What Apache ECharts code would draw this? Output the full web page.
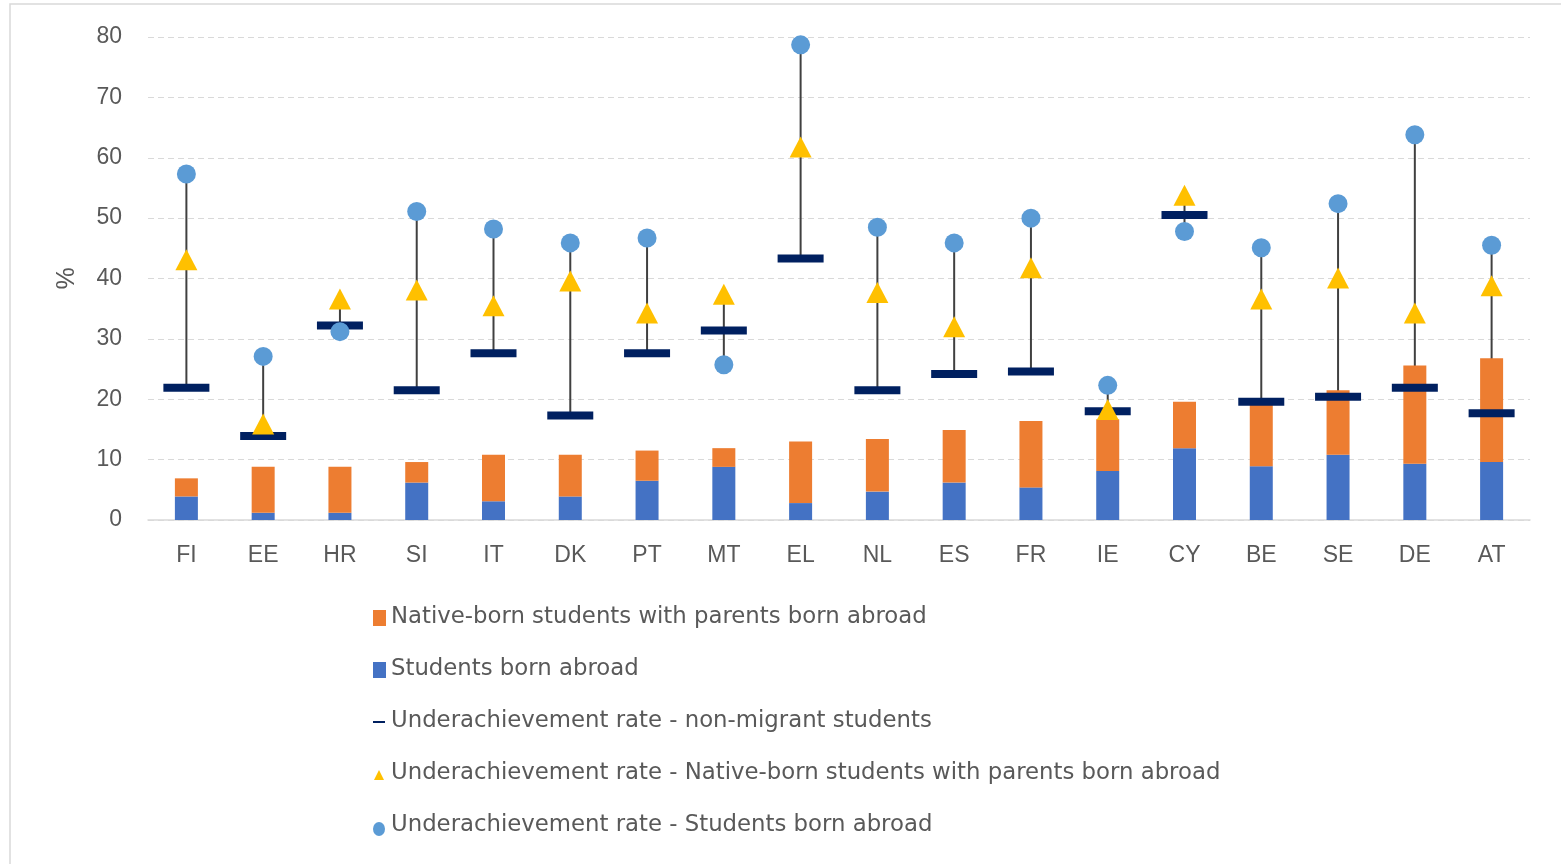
<!DOCTYPE html>
<html>
<head>
<meta charset="utf-8">
<script src="https://cdn.jsdelivr.net/npm/echarts@6/dist/echarts.min.js"></script>
<style>
  html, body { margin: 0; padding: 0; background: #fff; }
  #chart { width: 1561px; height: 864px; }
</style>
</head>
<body>
<div id="chart"></div>
<script>
// countries
var countries = ['FI', 'EE', 'HR', 'SI', 'IT', 'DK', 'PT', 'MT', 'EL', 'NL', 'ES', 'FR', 'IE', 'CY', 'BE', 'SE', 'DE', 'AT'];

// share of students (%) - stacked bars
var bornAbroad = [3.9, 1.2, 1.2, 6.2, 3.1, 3.9, 6.5, 8.8, 2.8, 4.7, 6.2, 5.4, 8.1, 11.9, 8.9, 10.8, 9.3, 9.6];
var nativeParentsAbroad = [3.0, 7.6, 7.6, 3.4, 7.7, 6.9, 5.0, 3.1, 10.2, 8.7, 8.7, 11.0, 8.6, 7.7, 10.8, 10.7, 16.3, 17.2];

// underachievement rates (%)
var rateNonMigrant = [21.9, 13.9, 32.2, 21.5, 27.6, 17.3, 27.6, 31.4, 43.3, 21.5, 24.2, 24.6, 18.0, 50.5, 19.6, 20.4, 21.9, 17.7];
var rateNative = [43.1, 15.9, 36.6, 38.1, 35.5, 39.6, 34.3, 37.4, 61.8, 37.7, 32.0, 41.8, 18.3, 53.8, 36.6, 40.1, 34.3, 38.8];
var rateAbroad = [57.3, 27.1, 31.2, 51.1, 48.2, 45.9, 46.7, 25.7, 78.7, 48.5, 45.9, 50.0, 22.3, 47.8, 45.1, 52.4, 63.8, 45.5];

var yTicks = { min: 0, max: 80, interval: 10 };

var names = {
  native: 'Native-born students with parents born abroad',
  abroad: 'Students born abroad',
  rNon: 'Underachievement rate - non-migrant students',
  rNative: 'Underachievement rate - Native-born students with parents born abroad',
  rAbroad: 'Underachievement rate - Students born abroad'
};

// vertical range line from lowest to highest rate
var ranges = countries.map(function (c, i) {
  var v = [rateNonMigrant[i], rateNative[i], rateAbroad[i]];
  return [i, Math.min.apply(null, v), Math.max.apply(null, v)];
});

var chart = echarts.init(document.getElementById('chart'));
var textColor = '#595959';

chart.setOption({
  animation: false,
  backgroundColor: '#fff',
  textStyle: { fontFamily: 'Liberation Sans' },
  graphic: [{
    type: 'rect',
    shape: { x: 10, y: 4, width: 1600, height: 900 },
    style: { fill: 'none', stroke: '#d9d9d9', lineWidth: 1.5 },
    silent: true
  }],
  grid: { left: 148, right: 31, top: 37, bottom: 344 },
  legend: {
    orient: 'vertical',
    left: 367,
    top: 600,
    itemGap: 28,
    itemWidth: 14,
    itemHeight: 24,
    textStyle: { color: textColor, fontSize: 22.8, fontFamily: 'DejaVu Sans' },
    selectedMode: false,
    data: [
      { name: names.native, icon: 'path://M0,0M1,5H14V21H1ZM14,24' },
      { name: names.abroad, icon: 'path://M0,0M1,5H14V21H1ZM14,24' },
      { name: names.rNon, icon: 'path://M0,0M1,12H13V14H1ZM14,24' },
      { name: names.rNative, icon: 'path://M0,0M2,19L7,9L12,19ZM14,24' },
      { name: names.rAbroad, icon: 'path://M0,0M7,9A6,7,0,1,1,7,23A6,7,0,1,1,7,9ZM14,24' }
    ]
  },
  xAxis: {
    type: 'category',
    data: countries,
    axisLine: { lineStyle: { color: '#d9d9d9', width: 1.5 } },
    axisTick: { show: false },
    axisLabel: { color: textColor, fontSize: 23, margin: 24 }
  },
  yAxis: {
    type: 'value',
    min: yTicks.min,
    max: yTicks.max,
    interval: yTicks.interval,
    name: '%',
    nameLocation: 'middle',
    nameGap: 68,
    nameRotate: 90,
    nameTextStyle: { color: textColor, fontSize: 25 },
    axisLine: { show: false },
    axisTick: { show: false },
    axisLabel: { color: textColor, fontSize: 23, margin: 26 },
    splitLine: { lineStyle: { color: '#d9d9d9', type: [6, 4], width: 1 } }
  },
  series: [
    {
      name: names.abroad,
      type: 'bar',
      stack: 'share',
      barWidth: 23,
      itemStyle: { color: '#4472C4' },
      data: bornAbroad
    },
    {
      name: names.native,
      type: 'bar',
      stack: 'share',
      barWidth: 23,
      itemStyle: { color: '#ED7D31' },
      data: nativeParentsAbroad
    },
    {
      type: 'custom',
      silent: true,
      data: ranges,
      renderItem: function (params, api) {
        var lo = api.coord([api.value(0), api.value(1)]);
        var hi = api.coord([api.value(0), api.value(2)]);
        return {
          type: 'line',
          shape: { x1: lo[0], y1: lo[1], x2: hi[0], y2: hi[1] },
          style: { stroke: '#404040', lineWidth: 2 }
        };
      }
    },
    {
      name: names.rNon,
      type: 'scatter',
      symbol: 'rect',
      symbolSize: [46, 8],
      itemStyle: { color: '#002060', opacity: 1 },
      data: rateNonMigrant
    },
    {
      name: names.rNative,
      type: 'scatter',
      symbol: 'triangle',
      symbolSize: [22, 21],
      itemStyle: { color: '#FFC000', opacity: 1 },
      data: rateNative
    },
    {
      name: names.rAbroad,
      type: 'scatter',
      symbol: 'circle',
      symbolSize: 19,
      itemStyle: { color: '#5B9BD5', opacity: 1 },
      data: rateAbroad
    }
  ]
});
</script>
</body>
</html>
